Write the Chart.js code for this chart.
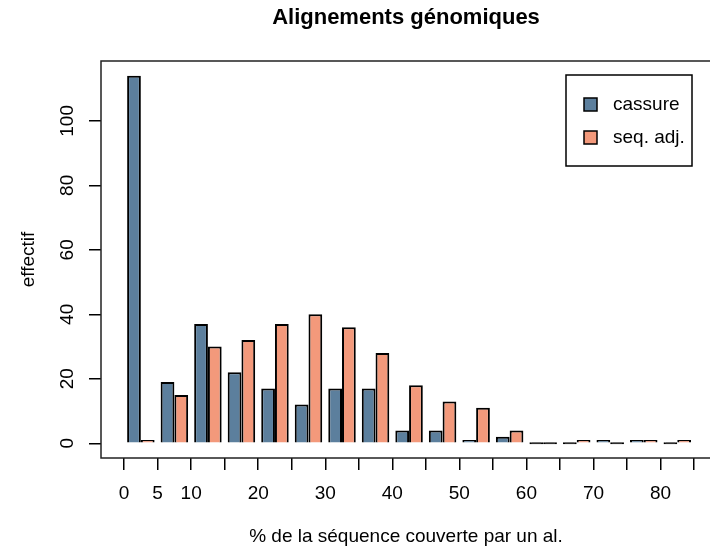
<!DOCTYPE html>
<html>
<head>
<meta charset="utf-8">
<script src="https://cdn.jsdelivr.net/npm/chart.js@4"></script>
<style>
  html, body { margin: 0; padding: 0; overflow: hidden; background: #fff; }
</style>
</head>
<body>
<canvas id="chart" width="720" height="552"></canvas>
<script>
// données (classes de 5 %)
const binStarts = [0, 5, 10, 15, 20, 25, 30, 35, 40, 45, 50, 55, 60, 65, 70, 75, 80];
const cassure = [114, 19, 37, 22, 17, 12, 17, 17, 4, 4, 1, 2, 0, 0, 1, 1, 0];
const seqAdj = [1, 15, 30, 32, 37, 40, 36, 28, 18, 13, 11, 4, 0, 1, 0, 1, 1];
const xTicks = [0, 5, 10, 15, 20, 25, 30, 35, 40, 45, 50, 55, 60, 65, 70, 75, 80, 85];
const xLabels = [0, 5, 10, 20, 30, 40, 50, 60, 70, 80];
const yTicks = [0, 20, 40, 60, 80, 100];

const FONT = '"Liberation Sans", Arial, Helvetica, sans-serif';
Chart.defaults.font.family = FONT;
Chart.defaults.color = '#000';

// cadre autour de la zone de tracé
const boxPlugin = {
  id: 'box',
  afterDatasetsDraw(chart) {
    const { ctx, chartArea: a } = chart;
    ctx.save();
    ctx.strokeStyle = '#222';
    ctx.lineWidth = 1.5;
    ctx.strokeRect(a.left, a.top, a.right - a.left, a.bottom - a.top);
    ctx.restore();
  }
};

// étiquettes verticales de l'axe y (style R)
const yLabelPlugin = {
  id: 'yLabels',
  afterDraw(chart) {
    const ctx = chart.ctx;
    const y = chart.scales.y;
    ctx.save();
    ctx.font = '19px ' + FONT;
    ctx.fillStyle = '#000';
    ctx.textAlign = 'center';
    ctx.textBaseline = 'middle';
    yTicks.forEach(v => {
      ctx.save();
      ctx.translate(68, y.getPixelForValue(v));
      ctx.rotate(-Math.PI / 2);
      ctx.fillText(String(v), 0, 0);
      ctx.restore();
    });
    ctx.restore();
  }
};

// légende encadrée en haut à droite
const legendPlugin = {
  id: 'rLegend',
  afterDraw(chart) {
    const ctx = chart.ctx;
    ctx.save();
    ctx.lineWidth = 1.5;
    ctx.strokeStyle = '#000';
    ctx.strokeRect(566, 75, 126, 91);
    ctx.font = '19px ' + FONT;
    ctx.textAlign = 'left';
    ctx.textBaseline = 'middle';
    chart.data.datasets.forEach((ds, i) => {
      const cy = 104 + i * 33;
      ctx.fillStyle = ds.fillColor;
      ctx.fillRect(584, cy - 6, 13, 13);
      ctx.strokeRect(584, cy - 6, 13, 13);
      ctx.fillStyle = '#000';
      ctx.fillText(ds.label, 613, cy + 1);
    });
    ctx.restore();
  }
};

const toPoints = vals => vals.map((v, i) => ({ x: binStarts[i] + 2.5, y: v }));
// barres nulles : trait noir comme dans barplot()
const fill = color => c => (c.raw && c.raw.y === 0) ? '#000' : color;

new Chart(document.getElementById('chart'), {
  type: 'bar',
  data: {
    datasets: [
      { label: 'cassure', data: toPoints(cassure), fillColor: '#5c7f9d', backgroundColor: fill('#5c7f9d'),
        borderColor: '#000', borderWidth: 2, minBarLength: 2 },
      { label: 'seq. adj.', data: toPoints(seqAdj), fillColor: '#f3997b', backgroundColor: fill('#f3997b'),
        borderColor: '#000', borderWidth: 2, minBarLength: 2 }
    ]
  },
  options: {
    responsive: false,
    animation: false,
    devicePixelRatio: 1,
    categoryPercentage: 0.82,
    barPercentage: 1,
    layout: { padding: { left: 0, right: 9, top: 0, bottom: 0 } },
    plugins: {
      legend: { display: false },
      tooltip: { enabled: false },
      title: {
        display: true,
        fullSize: false,
        text: 'Alignements génomiques',
        font: { size: 22, weight: 'bold' },
        color: '#000',
        padding: { top: 5, bottom: 29.6 }
      }
    },
    scales: {
      x: {
        type: 'linear',
        min: -3.445,
        max: 87.53,
        offset: false,
        afterBuildTicks: s => { s.ticks = xTicks.map(v => ({ value: v })); },
        afterFit: s => { s.height = 94; },
        ticks: {
          autoSkip: false, maxRotation: 0, minRotation: 0, padding: 12,
          font: { size: 19 }, color: '#000',
          callback: v => xLabels.includes(v) ? String(v) : ''
        },
        grid: { display: true, drawOnChartArea: false, drawTicks: true, tickLength: 12,
                color: '#000', lineWidth: 1.5, offset: false },
        border: { display: false },
        title: { display: true, text: '% de la séquence couverte par un al.',
                 font: { size: 19 }, color: '#000', padding: { top: 0, bottom: 4 } }
      },
      y: {
        min: -4.56,
        max: 118.56,
        afterBuildTicks: s => { s.ticks = yTicks.map(v => ({ value: v })); },
        afterFit: s => { s.width = 101; },
        ticks: { display: false },
        grid: { drawOnChartArea: false, drawTicks: true, tickLength: 12, color: '#000', lineWidth: 1.5 },
        border: { display: false },
        title: { display: true, text: 'effectif', font: { size: 19 }, color: '#000',
                 padding: { top: 17, bottom: 0 } }
      }
    }
  },
  plugins: [boxPlugin, yLabelPlugin, legendPlugin]
});
</script>
</body>
</html>
